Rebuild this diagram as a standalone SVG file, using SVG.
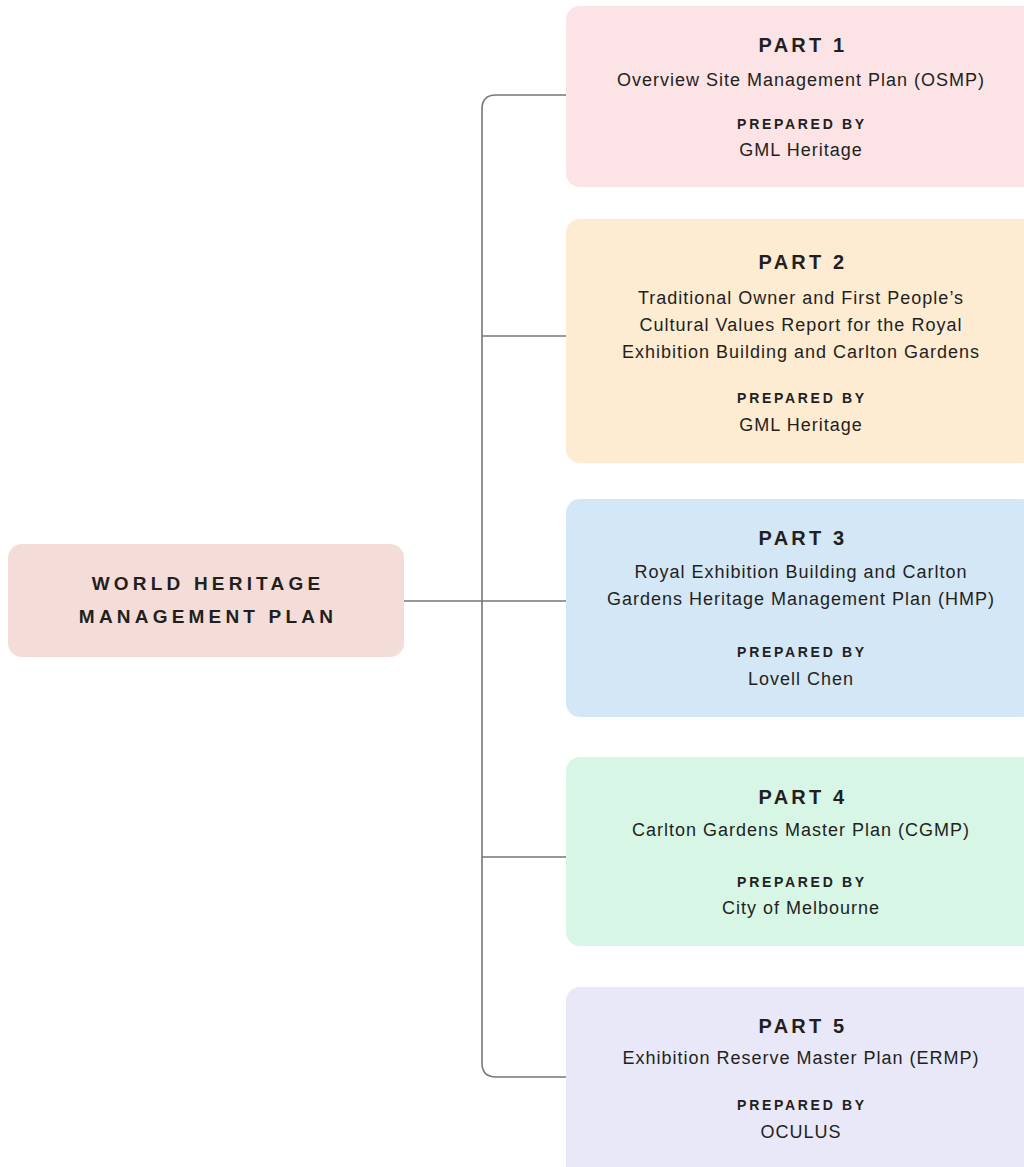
<svg xmlns="http://www.w3.org/2000/svg" width="1024" height="1167" viewBox="0 0 1024 1167">
<style>
.t{font-family:"Liberation Sans",Arial,sans-serif;fill:#231f20;text-anchor:middle}
.h{font-size:20px;font-weight:bold;letter-spacing:3.2px}
.b{font-size:18px;letter-spacing:1px}
.p{font-size:14px;font-weight:bold;letter-spacing:2.7px}
.c{font-size:19px;font-weight:bold;letter-spacing:4.2px}
.ln{fill:none;stroke:#777;stroke-width:1.6}
</style>
<rect width="1024" height="1167" fill="#fff"/>
<g id="connectors">
<path class="ln" d="M566 95 H496 Q482 95 482 109 V1063 Q482 1077 496 1077 H566"/>
<path class="ln" d="M482 336 H566 M404 601 H566 M482 857 H566"/>
</g>
<g id="root">
<rect x="8" y="544" width="396" height="113" rx="14" fill="#f4ddd8"/>
<text class="t c" x="208" y="590">WORLD HERITAGE</text>
<text class="t c" x="208" y="623">MANAGEMENT PLAN</text>
</g>
<g id="part1">
<rect x="566" y="6" width="470" height="181" rx="14" fill="#fbe3e6"/>
<text class="t h" x="803" y="52">PART 1</text>
<text class="t b" x="801" y="86">Overview Site Management Plan (OSMP)</text>
<text class="t p" x="802" y="129">PREPARED BY</text>
<text class="t b" x="801" y="156">GML Heritage</text>
</g>
<g id="part2">
<rect x="566" y="219" width="470" height="244" rx="14" fill="#fdebd2"/>
<text class="t h" x="803" y="269">PART 2</text>
<text class="t b" x="801" y="304">Traditional Owner and First People’s</text>
<text class="t b" x="801" y="331">Cultural Values Report for the Royal</text>
<text class="t b" x="801" y="358">Exhibition Building and Carlton Gardens</text>
<text class="t p" x="802" y="403">PREPARED BY</text>
<text class="t b" x="801" y="431">GML Heritage</text>
</g>
<g id="part3">
<rect x="566" y="499" width="470" height="218" rx="14" fill="#d4e7f7"/>
<text class="t h" x="803" y="545">PART 3</text>
<text class="t b" x="801" y="578">Royal Exhibition Building and Carlton</text>
<text class="t b" x="801" y="605">Gardens Heritage Management Plan (HMP)</text>
<text class="t p" x="802" y="657">PREPARED BY</text>
<text class="t b" x="801" y="685">Lovell Chen</text>
</g>
<g id="part4">
<rect x="566" y="757" width="470" height="189" rx="14" fill="#d7f6e5"/>
<text class="t h" x="803" y="804">PART 4</text>
<text class="t b" x="801" y="836">Carlton Gardens Master Plan (CGMP)</text>
<text class="t p" x="802" y="887">PREPARED BY</text>
<text class="t b" x="801" y="914">City of Melbourne</text>
</g>
<g id="part5">
<rect x="566" y="987" width="470" height="200" rx="14" fill="#e8e8f8"/>
<text class="t h" x="803" y="1033">PART 5</text>
<text class="t b" x="801" y="1064">Exhibition Reserve Master Plan (ERMP)</text>
<text class="t p" x="802" y="1110">PREPARED BY</text>
<text class="t b" x="801" y="1138">OCULUS</text>
</g>
</svg>
